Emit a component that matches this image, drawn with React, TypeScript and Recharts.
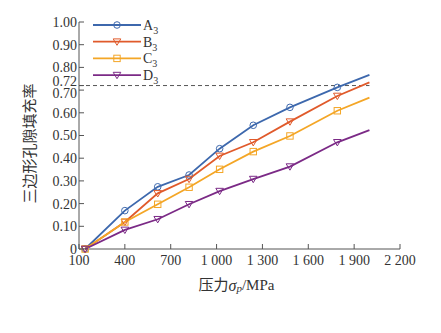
import { LineChart, Line, XAxis, YAxis, ReferenceLine } from 'recharts'

const pressure = [140, 400, 615, 820, 1020, 1240, 1480, 1790, 2000]
const seriesA3 = [0, 0.169, 0.274, 0.326, 0.442, 0.545, 0.624, 0.712, 0.767]
const seriesB3 = [0, 0.119, 0.245, 0.308, 0.41, 0.47, 0.561, 0.674, 0.734]
const seriesC3 = [0, 0.119, 0.197, 0.272, 0.351, 0.429, 0.498, 0.609, 0.667]
const seriesD3 = [0, 0.084, 0.131, 0.197, 0.255, 0.308, 0.363, 0.47, 0.524]

const xTicks = [100, 400, 700, 1000, 1300, 1600, 1900, 2200]
const yTicks = [0, 0.1, 0.2, 0.3, 0.4, 0.5, 0.6, 0.7, 0.72, 0.8, 0.9, 1.0]

const SERIES = [
  { key: 'A3', name: 'A', color: '#3d68ad', shape: 'circle' },
  { key: 'B3', name: 'B', color: '#e05a2b', shape: 'tri' },
  { key: 'C3', name: 'C', color: '#f4a626', shape: 'square' },
  { key: 'D3', name: 'D', color: '#7b2a86', shape: 'tri' },
]

const chartData = pressure.map((p, i) => ({
  p,
  A3: seriesA3[i],
  B3: seriesB3[i],
  C3: seriesC3[i],
  D3: seriesD3[i],
}))

const FONT = '"Liberation Serif", "DejaVu Serif", "Noto Sans CJK SC", serif'
const AXIS = '#555'
const TEXT = '#333'

function Marker({ cx, cy, shape, color }: any) {
  if (shape === 'circle') return <circle cx={cx} cy={cy} r={3.3} fill="none" stroke={color} strokeWidth={1} />
  if (shape === 'square') return <rect x={cx - 3.2} y={cy - 3.2} width={6.4} height={6.4} fill="none" stroke={color} strokeWidth={1} />
  return (
    <path
      d={`M${cx - 3.8},${cy - 2.8} L${cx + 3.8},${cy - 2.8} L${cx},${cy + 3.6} Z`}
      fill="none"
      stroke={color}
      strokeWidth={1}
    />
  )
}

// no marker on the last point of each line
const makeDot = (shape: string, color: string) => (props: any) => {
  const { cx, cy, index } = props
  if (index === pressure.length - 1) return <g key={`d${index}`} />
  return <g key={`d${index}`}><Marker cx={cx} cy={cy} shape={shape} color={color} /></g>
}

const fmtX = (v: number) => (v >= 1000 ? `${Math.floor(v / 1000)} ${String(v % 1000).padStart(3, '0')}` : String(v))

const XTick = ({ x, y, payload }: any) => (
  <g>
    <line x1={x} x2={x} y1={y} y2={y - 5} stroke={AXIS} />
    <text x={x} y={y + 16} textAnchor="middle" fontSize={14} fill={TEXT} fontFamily={FONT}>
      {fmtX(payload.value)}
    </text>
  </g>
)

const YTick = ({ x, y, payload }: any) => {
  const v = payload.value
  const shift = v === 0.72 ? -4 : v === 0.7 ? 3 : 0
  return (
    <g>
      <line x1={x} x2={x + 5} y1={y} y2={y} stroke={AXIS} />
      <text x={x - 2} y={y + shift} dy="0.35em" textAnchor="end" fontSize={14} fill={TEXT} fontFamily={FONT}>
        {v === 0 ? '0' : v.toFixed(2)}
      </text>
    </g>
  )
}

const YLabel = ({ viewBox }: any) => {
  const cx = viewBox.x + 30
  const cy = viewBox.y + viewBox.height / 2 + 8
  return (
    <text
      x={cx}
      y={cy}
      transform={`rotate(-90 ${cx} ${cy})`}
      textAnchor="middle"
      dominantBaseline="central"
      fontSize={15}
      fill={TEXT}
      fontFamily={FONT}
    >
      三边形孔隙填充率
    </text>
  )
}

const XLabel = ({ viewBox }: any) => {
  const cx = viewBox.x + viewBox.width / 2 - 3
  const cy = viewBox.y + 36
  return (
    <text x={cx} y={cy} textAnchor="middle" dominantBaseline="central" fontSize={15} fill={TEXT} fontFamily={FONT}>
      压力
      <tspan fontStyle="italic" fontSize={16}>σ</tspan>
      <tspan fontStyle="italic" fontSize={11} dy={3}>p</tspan>
      <tspan dy={-3}>/MPa</tspan>
    </text>
  )
}

const LegendBox = () => (
  <svg width={80} height={70} style={{ position: 'absolute', top: 15, left: 90 }}>
    {SERIES.map((s, i) => {
      const y = 10 + i * 16.7
      return (
        <g key={s.key}>
          <line x1={3} x2={51} y1={y} y2={y} stroke={s.color} strokeWidth={1.8} />
          <Marker cx={27} cy={y} shape={s.shape} color={s.color} />
          <text x={53} y={y} dy="0.35em" fontSize={14} fill={TEXT} fontFamily={FONT}>
            {s.name}
            <tspan fontSize={10} dy={4}>3</tspan>
          </text>
        </g>
      )
    })}
  </svg>
)

export default function App() {
  return (
    <div style={{ position: 'relative', width: 441, height: 333, background: '#fff' }}>
      <style>{`body{margin:0}`}</style>
      <LineChart width={441} height={333} data={chartData} margin={{ top: 22, right: 41, bottom: 54, left: 0 }}>
        <XAxis
          dataKey="p"
          type="number"
          domain={[100, 2200]}
          ticks={xTicks}
          interval={0}
          height={30}
          tickSize={0}
          tickMargin={0}
          tickLine={false}
          axisLine={{ stroke: AXIS }}
          tick={<XTick />}
          label={<XLabel />}
        />
        <YAxis
          type="number"
          domain={[0, 1]}
          ticks={yTicks}
          interval={0}
          width={79}
          tickSize={0}
          tickMargin={0}
          tickLine={false}
          axisLine={{ stroke: AXIS }}
          tick={<YTick />}
          label={<YLabel />}
        />
        <ReferenceLine
          segment={[{ x: 100, y: 0.72 }, { x: 2000, y: 0.72 }]}
          stroke="#555"
          strokeDasharray="4 3"
          strokeWidth={1}
        />
        {SERIES.map((s) => (
          <Line
            key={s.key}
            dataKey={s.key}
            type="linear"
            stroke={s.color}
            strokeWidth={1.8}
            dot={makeDot(s.shape, s.color)}
            activeDot={false}
            isAnimationActive={false}
          />
        ))}
      </LineChart>
      <LegendBox />
    </div>
  )
}
